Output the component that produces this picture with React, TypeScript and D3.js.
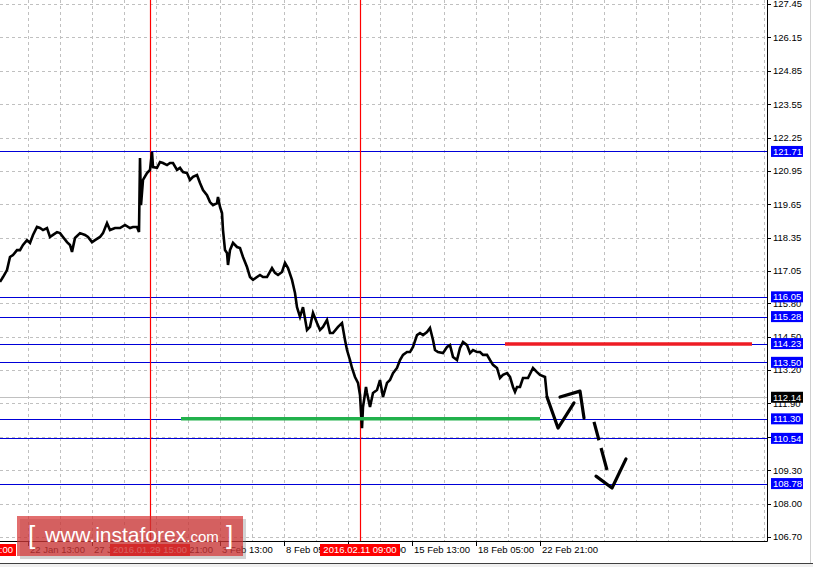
import React from "react";
import * as d3 from "d3";

// ---- data ----
const barIdx = [
  0, 3, 7, 10, 13, 17, 20, 23, 27, 30, 33, 37, 40, 43, 47, 50, 53, 57, 60, 63, 67, 70, 72, 75, 80, 85, 88, 92, 95, 100,
  103, 107, 110, 115, 120, 125, 130, 133, 137, 139, 140, 141, 143, 147, 150, 152, 153, 157, 160, 163, 167, 170, 173,
  177, 180, 183, 187, 190, 193, 197, 200, 203, 207, 210, 213, 217, 218, 220, 222, 223, 225, 227, 228, 230, 233, 237,
  240, 243, 247, 250, 253, 257, 260, 263, 267, 272, 275, 278, 282, 285, 288, 292, 295, 297, 300, 303, 307, 310, 313,
  317, 320, 323, 327, 330, 333, 338, 342, 345, 347, 350, 352, 355, 358, 360, 362, 363, 366, 367, 370, 373, 377, 380,
  383, 387, 390, 393, 397, 400, 403, 407, 410, 413, 417, 420, 423, 427, 430, 433, 435, 438, 443, 447, 450, 453, 457,
  460, 463, 467, 470, 473, 477, 480, 483, 487, 490, 493, 497, 500, 503, 507, 510, 513, 515, 517, 520, 523, 528, 533,
  537, 540, 545, 547,
];
const closes = [
  116.63, 116.82, 117.09, 117.6, 117.68, 117.87, 117.87, 118.07, 118.26, 118.15, 118.46, 118.77, 118.73, 118.65, 118.73,
  118.38, 118.46, 118.57, 118.53, 118.38, 118.18, 118.07, 117.8, 118.34, 118.53, 118.46, 118.38, 118.18, 118.26, 118.38,
  118.53, 118.92, 118.65, 118.73, 118.73, 118.85, 118.73, 118.77, 118.77, 118.57, 121.45, 119.62, 120.6, 120.87, 120.99,
  121.69, 121.1, 121.07, 121.3, 121.26, 121.18, 121.26, 121.26, 120.99, 121.07, 120.91, 120.87, 120.6, 120.72, 120.79,
  120.48, 120.21, 120.01, 119.74, 119.62, 119.7, 119.94, 119.55, 119.31, 118.65, 117.87, 117.76, 117.29, 117.87, 118.15,
  117.99, 117.95, 117.6, 117.21, 116.82, 116.71, 116.82, 116.9, 116.82, 116.82, 117.17, 116.98, 116.9, 117.02, 117.37,
  117.17, 116.71, 116.2, 115.65, 115.27, 115.65, 114.76, 114.88, 115.42, 115.03, 114.76, 114.88, 115.15, 114.64, 114.64,
  114.88, 115.03, 114.37, 113.98, 113.59, 113.28, 112.93, 112.7, 112.23, 110.94, 111.76, 112.54, 112.31, 111.76, 112.31,
  112.42, 112.81, 112.15, 112.7, 112.81, 113.08, 113.28, 113.59, 113.79, 113.9, 113.9, 114.1, 114.56, 114.64, 114.56,
  114.68, 114.84, 114.37, 113.98, 113.9, 113.86, 114.1, 114.17, 113.71, 113.59, 114.06, 114.29, 114.17, 113.86, 113.98,
  113.9, 113.9, 113.79, 113.79, 113.59, 113.4, 113.28, 112.89, 113.01, 113.08, 112.93, 112.54, 112.35, 112.54, 112.54,
  112.89, 112.89, 113.28, 113.12, 113.01, 112.93, 112.15,
];

const yTicks = [127.45, 126.15, 124.85, 123.55, 122.25, 120.95, 119.65, 118.35, 117.05, 115.8, 114.5, 113.2, 111.9, 110.6, 109.3, 108.0, 106.7];
const levels = [121.71, 116.05, 115.28, 114.23, 113.5, 111.3, 110.54, 108.78];
const currentPrice = 112.14;

const timeLabels = ["22 Jan 13:00", "27 Jan 05:00", "29 Jan 21:00", "3 Feb 13:00", "8 Feb 05:00", "10 Feb 21:00", "15 Feb 13:00", "18 Feb 05:00", "22 Feb 21:00"];
const timeLabelBars = [28, 92, 156, 220, 284, 348, 412, 476, 540];
const gridBars = d3.range(28, 767, 32);

const markerBars = [-24, 150, 360];
const markerLabels = ["2016.01.21 13:00", "2016.01.29 15:00", "2016.02.11 09:00"];

const resistSeg = { from: 505, to: 752, price: 114.21 };
const supportSeg = { from: 181, to: 540, price: 111.3 };

// hand-drawn forecast strokes (bar, price)
const forecastSolid: [number, number][][] = [
  [[547, 112.15], [558, 110.94], [574, 111.92]],
  [[560, 112.15], [580, 112.38], [584, 111.33]],
  [[596, 109.07], [612, 108.61], [626, 109.74]],
];
const forecastDashed: [number, number][] = [[594, 111.18], [607, 109.31]];

// ---- layout ----
const W = 813, H = 567;
const plotR = 767, plotB = 541;

export default function App() {
  const x = d3.scaleLinear().domain([0, 767]).range([0, plotR]);
  const y = d3.scaleLinear().domain([106.7, 127.45]).range([537, 4]);
  const pts = barIdx.map((b, i) => [x(b), y(closes[i])] as [number, number]);
  const line = d3.line();
  const font = "'Liberation Sans', Arial, sans-serif";

  return (
    <svg width={W} height={H} style={{ position: "fixed", left: 0, top: 0, background: "#fff" }} fontFamily={font}>
      <rect x={0} y={0} width={W} height={H} fill="#fff" />
      {/* grid */}
      {yTicks.map((t) => (
        <line key={"gy" + t} x1={0} x2={plotR} y1={Math.round(y(t)) + 0.5} y2={Math.round(y(t)) + 0.5} stroke="#c0c0c0" strokeDasharray="3,3" />
      ))}
      {gridBars.map((b) => (
        <line key={"gx" + b} x1={x(b) + 0.5} x2={x(b) + 0.5} y1={0} y2={plotB} stroke="#c0c0c0" strokeDasharray="3,3" />
      ))}
      {/* current price line */}
      <line x1={0} x2={plotR} y1={Math.round(y(currentPrice)) + 0.5} y2={Math.round(y(currentPrice)) + 0.5} stroke="#c0c0c0" />
      {/* level lines */}
      {levels.map((l) => (
        <line key={"lv" + l} x1={0} x2={plotR} y1={Math.round(y(l)) + 0.5} y2={Math.round(y(l)) + 0.5} stroke="#0000d8" />
      ))}
      {/* vertical markers */}
      {markerBars.map((b) => (
        <line key={"vm" + b} x1={x(b) + 0.5} x2={x(b) + 0.5} y1={0} y2={plotB} stroke="#ff0000" strokeWidth={1.2} />
      ))}
      {/* price */}
      <path d={line(pts) || ""} fill="none" stroke="#000" strokeWidth={2.6} strokeLinejoin="miter" />
      {/* resistance / support */}
      <line x1={x(resistSeg.from)} x2={x(resistSeg.to)} y1={y(resistSeg.price)} y2={y(resistSeg.price)} stroke="#ee1c24" strokeWidth={3.5} />
      <line x1={x(supportSeg.from)} x2={x(supportSeg.to)} y1={y(supportSeg.price)} y2={y(supportSeg.price)} stroke="#22b14c" strokeWidth={3.5} />
      {/* forecast */}
      {forecastSolid.map((s, i) => (
        <path key={"fs" + i} d={line(s.map(([b, p]) => [x(b), y(p)] as [number, number])) || ""} fill="none" stroke="#000" strokeWidth={3.2} strokeLinejoin="round" strokeLinecap="round" />
      ))}
      <path d={line(forecastDashed.map(([b, p]) => [x(b), y(p)] as [number, number])) || ""} fill="none" stroke="#000" strokeWidth={3.2} strokeDasharray="19 8 23" />

      {/* axes */}
      <line x1={plotR + 0.5} x2={plotR + 0.5} y1={0} y2={plotB + 0.5} stroke="#000" />
      <line x1={0} x2={plotR + 0.5} y1={plotB + 0.5} y2={plotB + 0.5} stroke="#000" />
      {yTicks.map((t) => (
        <g key={"yt" + t}>
          <line x1={plotR} x2={plotR + 4} y1={Math.round(y(t)) + 0.5} y2={Math.round(y(t)) + 0.5} stroke="#000" />
          <text x={773} y={y(t)} dy="0.35em" fontSize={9.5} fill="#000">{t.toFixed(2)}</text>
        </g>
      ))}
      {timeLabelBars.map((b, i) => (
        <g key={"xt" + b}>
          <line x1={x(b) + 0.5} x2={x(b) + 0.5} y1={plotB} y2={plotB + 5} stroke="#000" />
          <text x={x(b) + 2} y={553} fontSize={9.5} fill="#000">{timeLabels[i]}</text>
        </g>
      ))}
      {/* level labels */}
      {levels.map((l) => (
        <g key={"ll" + l}>
          <rect x={771} y={y(l) - 5.5} width={32} height={11} fill="#0000ff" />
          <text x={773} y={y(l)} dy="0.36em" fontSize={9.5} fill="#fff">{l.toFixed(2)}</text>
        </g>
      ))}
      <rect x={771} y={y(currentPrice) - 5.5} width={32} height={11} fill="#000" />
      <text x={773} y={y(currentPrice)} dy="0.36em" fontSize={9.5} fill="#fff">{currentPrice.toFixed(2)}</text>
      {/* marker labels */}
      {markerBars.map((b, i) => (
        <g key={"ml" + b}>
          <rect x={x(b) - 40} y={544} width={80} height={12} fill="#ff0000" />
          <text x={x(b)} y={553} textAnchor="middle" fontSize={9.5} fill="#fff">{markerLabels[i]}</text>
        </g>
      ))}
      {/* window borders */}
      <line x1={0} x2={W} y1={563.5} y2={563.5} stroke="#404040" />
      <rect x={0} y={564} width={W} height={3} fill="#f0f0f0" />
      <line x1={810.5} x2={810.5} y1={0} y2={563} stroke="#d0d0d0" />

      {/* logo */}
      <rect x={20} y={519} width={226} height={40} fill="#808080" opacity={0.35} />
      <rect x={17} y={516} width={226} height={40} fill="#d42a2a" opacity={0.68} />
      <text x={28} y={544} fontSize={26} fill="#fff" fontWeight={300}>[</text>
      <text x={45} y={542} fontSize={21} fill="#fff">www.instaforex<tspan fontSize={15}>.com</tspan></text>
      <text x={226} y={544} fontSize={26} fill="#fff" fontWeight={300}>]</text>
    </svg>
  );
}
